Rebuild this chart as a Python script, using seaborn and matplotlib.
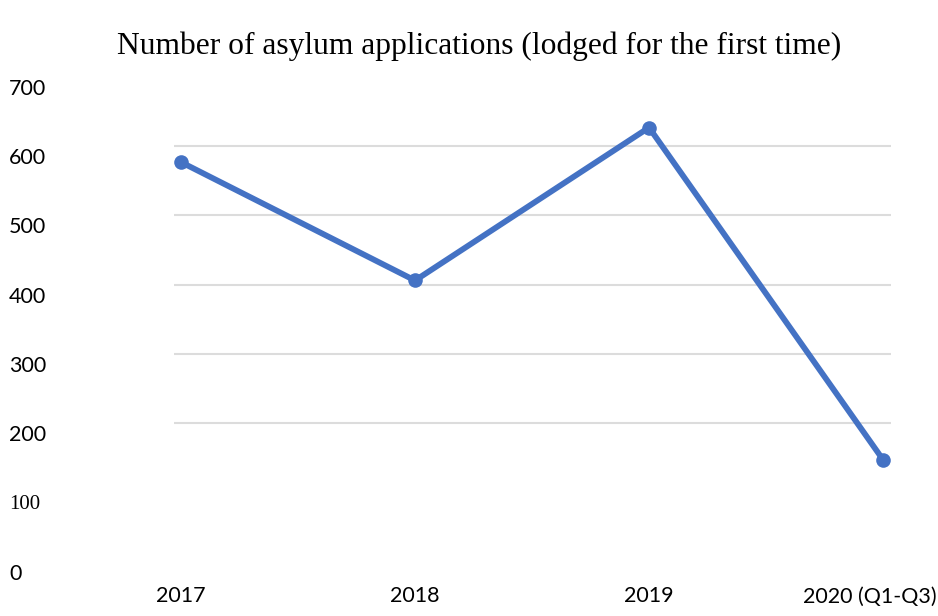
import matplotlib
matplotlib.use("Agg")
import matplotlib.pyplot as plt
import matplotlib.transforms as mtransforms
import seaborn as sns
import pandas as pd

categories = ["2017", "2018", "2019", "2020 (Q1-Q3)"]
applications = [577, 406, 627, 147]
y_ticks = [0, 100, 200, 300, 400, 500, 600, 700]
y_tick_labels = ["0", "100", "200", "300", "400", "500", "600", "700"]
title = "Number of asylum applications (lodged for the first time)"

df = pd.DataFrame({"year": categories, "applications": applications})

sns.set_theme(style="white")
plt.rcParams["font.family"] = ["Lato", "DejaVu Sans"]

W, H, DPI = 938, 616, 100
fig = plt.figure(figsize=(W / DPI, H / DPI), dpi=DPI)
ax = fig.add_axes([174 / W, 1 - 561.5 / H, (891 - 174) / W, (561.5 - 77) / H])

line_color = "#4472C4"
sns.lineplot(data=df, x="year", y="applications", ax=ax, sort=False,
             color=line_color, linewidth=4.2, marker="o", markersize=10.5,
             markeredgecolor=line_color, markeredgewidth=0)

ax.set_xlim(-0.03, 3.034)
ax.set_ylim(0, 700)
ax.set_yticks(y_ticks)
ax.set_yticklabels(y_tick_labels)
ax.set_xlabel("")
ax.set_ylabel("")
for s in ax.spines.values():
    s.set_visible(False)

ax.grid(axis="y", color="#dcdcdc", linewidth=1.5)
ax.grid(axis="x", visible=False)
ax.set_axisbelow(True)
for val, gl in zip(y_ticks, ax.yaxis.get_gridlines()):
    if val in (0, 100, 700):
        gl.set_visible(False)

ax.tick_params(axis="both", length=0)
ax.tick_params(axis="y", pad=(174 - 9) * 72 / DPI)
ax.tick_params(axis="x", pad=18)

for val, lab in zip(y_ticks, ax.get_yticklabels()):
    lab.set_horizontalalignment("left")
    lab.set_fontsize(15.5)
    lab.set_color("black")
    if val == 100:
        lab.set_family(["Liberation Serif", "DejaVu Serif"])
        lab.set_fontsize(15)
    lab.set_transform(lab.get_transform() +
                      mtransforms.ScaledTranslation(0, -10 / DPI, fig.dpi_scale_trans))

xlabs = ax.get_xticklabels()
for i, lab in enumerate(xlabs):
    lab.set_fontsize(15.5)
    lab.set_color("black")
    if i == len(xlabs) - 1:
        lab.set_transform(lab.get_transform() +
                          mtransforms.ScaledTranslation(-13 / DPI, 0, fig.dpi_scale_trans))

fig.text(479 / W, 1 - 46 / H, title, ha="center", va="center",
         fontsize=22.7, family=["Liberation Serif", "DejaVu Serif"], color="black")

fig.savefig("out.png", dpi=DPI, facecolor="white")
